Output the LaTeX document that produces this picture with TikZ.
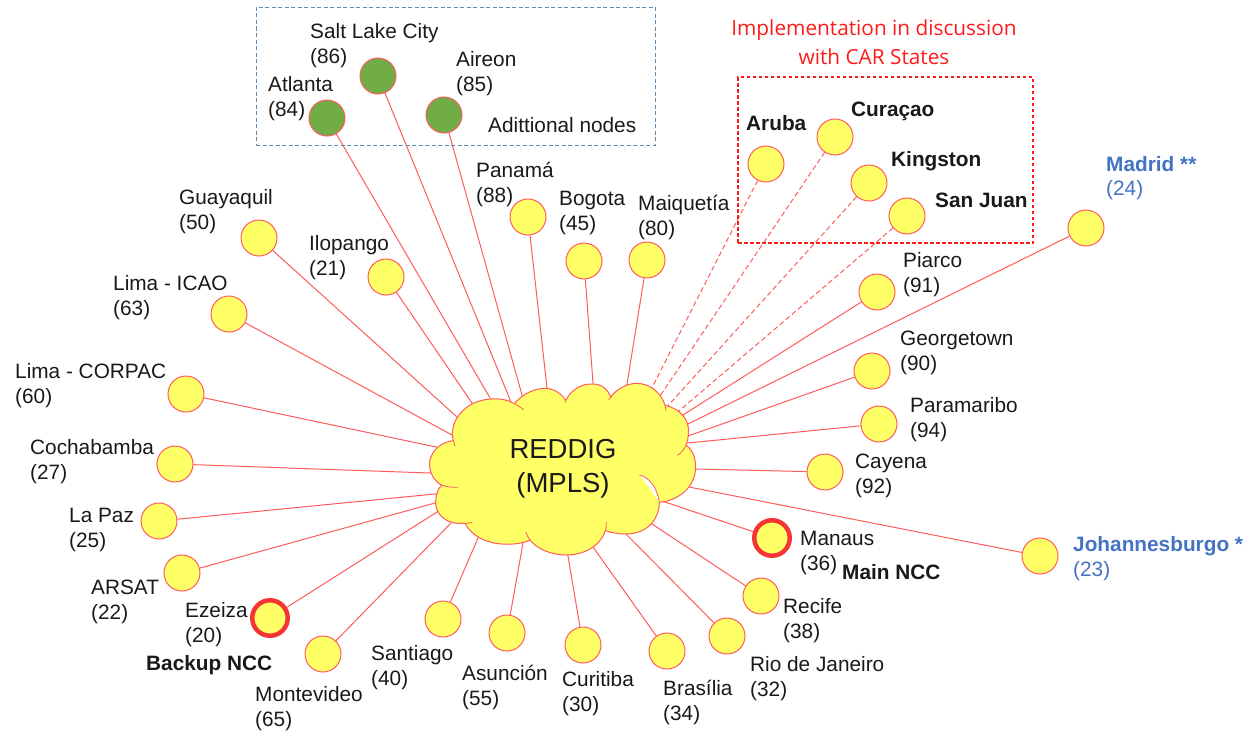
\documentclass[tikz,border=0pt]{standalone}
\usepackage{fontspec}
\setmainfont{Liberation Sans}
\newfontfamily\notefont{Open Sans}
\usetikzlibrary{backgrounds}
\definecolor{linkred}{HTML}{FF5B5B}
\definecolor{carred}{HTML}{FF1A1A}
\definecolor{nccred}{HTML}{F53535}
\definecolor{nodeyellow}{HTML}{FFFF66}
\definecolor{nodegreen}{HTML}{70AD47}
\definecolor{labelblue}{HTML}{4472C4}
\definecolor{boxblue}{HTML}{5B8DB8}
\tikzset{
  site/.style={circle,draw=linkred,line width=1pt,fill=nodeyellow,minimum size=36pt,inner sep=0pt},
  extra/.style={site,fill=nodegreen},
  ncc/.style={site,draw=nccred,line width=4.5pt,minimum size=35.5pt},
  lbl/.style={anchor=west,align=left,inner sep=0pt,font=\fontsize{20.8}{25}\selectfont,text=black!90},
  blbl/.style={lbl,font=\fontsize{20.8}{25}\selectfont\bfseries},
  link/.style={draw=linkred,line width=1pt},
  dlink/.style={link,dash pattern=on 5pt off 3pt},
}
\begin{document}
\begin{tikzpicture}[x=1pt,y=-1pt]
\useasboundingbox (0,0) rectangle (1247,731);
% boxes
\node[draw,color=boxblue,dash pattern=on 4pt off 2.5pt,line width=1pt,minimum width=399pt,minimum height=138pt,inner sep=0pt] (addbox) at (455.5,76) {};
\node[draw,color=carred,dash pattern=on 3.5pt off 2.5pt,line width=1.2pt,minimum width=295pt,minimum height=166pt,inner sep=0pt] (carbox) at (885.5,160) {};
% sites
\node[site] (guay) at (259,238) {};
\node[site] (ilop) at (386,277) {};
\node[site] (licao) at (229,314) {};
\node[site] (lcorp) at (186,394) {};
\node[site] (coch) at (175,464) {};
\node[site] (lapaz) at (159,521) {};
\node[site] (arsat) at (182,573) {};
\node[ncc] (ezei) at (270,618) {};
\node[site] (mont) at (323,654) {};
\node[site] (sant) at (443,619) {};
\node[site] (asun) at (507,633) {};
\node[site] (curi) at (583,645) {};
\node[site] (bras) at (667,651) {};
\node[site] (rio) at (727,636) {};
\node[site] (reci) at (761,596) {};
\node[ncc] (mana) at (772,538) {};
\node[site] (caye) at (825,472) {};
\node[site] (para) at (879,424) {};
\node[site] (geor) at (872,371) {};
\node[site] (piar) at (877,292) {};
\node[site] (joha) at (1040,556) {};
\node[site] (madr) at (1086,228) {};
\node[site] (maiq) at (647,260) {};
\node[site] (bogo) at (584,261) {};
\node[site] (pana) at (528,217) {};
\node[extra] (atla) at (327,118) {};
\node[extra] (salt) at (378,76) {};
\node[extra] (aire) at (444,115) {};
\node[site] (arub) at (766,164) {};
\node[site] (cura) at (835,137) {};
\node[site] (king) at (869,183) {};
\node[site] (sanj) at (907,216) {};
% cloud centre
\node[font=\fontsize{27.5}{34}\selectfont,align=center,inner sep=0pt,text=black!90] (cloud) at (563,468.5) {REDDIG\\(MPLS)};
\coordinate (hub) at (610,470);
\begin{scope}[on background layer]
\foreach \n/\ex/\ey in {guay/457/417,ilop/472/403,licao/452/435,lcorp/436/447,coch/430/473,lapaz/435/494,arsat/435/503,ezei/437/512,mont/450/524,sant/478/538,asun/523/543,curi/568/556,bras/593/547,rio/630/538,reci/652/524,mana/665/502,caye/695/469,para/688/443,geor/688/436,piar/683/415,joha/689/487,madr/688/424,maiq/627/384,bogo/593/383,pana/547/388,atla/490/398,salt/511/402,aire/522/395}{
  \coordinate (end\n) at (\ex,\ey);
  \draw[link,shorten >=-6pt] (\n) -- (end\n);
}
\foreach \n in {arub,cura,king,sanj}
  \draw[dlink] (\n) -- (hub);
\end{scope}
% cloud outline
\begin{scope}[on background layer,shift={(420,370)},x=0.33333pt,y=-0.33333pt]
\fill[white] (650,310) -- (725,310) -- (725,400) -- (700,400) -- cycle;
\fill[nodeyellow,draw=linkred,line width=1pt,line join=round]
 (100,212) .. controls (85,160) and (130,90) .. (215,87)
 .. controls (240,85) and (265,90) .. (283,101)
 .. controls (310,70) and (345,55) .. (375,55)
 .. controls (400,55) and (425,70) .. (437,92)
 .. controls (455,55) and (490,40) .. (520,42)
 .. controls (545,42) and (565,60) .. (572,82)
 .. controls (590,55) and (625,40) .. (650,40)
 .. controls (690,40) and (725,70) .. (735,106)
 .. controls (780,115) and (810,150) .. (805,190)
 .. controls (805,205) and (802,215) .. (798,225)
 .. controls (825,245) and (830,280) .. (825,310)
 .. controls (815,360) and (770,392) .. (718,397)
 .. controls (718,440) and (690,490) .. (620,492)
 .. controls (595,492) and (575,488) .. (556,482)
 .. controls (540,530) and (490,555) .. (440,555)
 .. controls (390,555) and (350,535) .. (330,510)
 .. controls (290,530) and (175,535) .. (135,460)
 .. controls (75,465) and (45,430) .. (47,395)
 .. controls (47,375) and (55,355) .. (65,345)
 .. controls (35,330) and (25,295) .. (30,270)
 .. controls (38,235) and (70,215) .. (100,212) -- cycle;
\draw[linkred,line width=0.8pt]
 (100,212) .. controls (102,218) and (104,224) .. (105,229)
 (283,101) .. controls (293,106) and (303,112) .. (311,119)
 (437,92) .. controls (437,94) and (436,96) .. (435,98)
 (572,82) .. controls (570,84) and (568,86) .. (566,89)
 (735,106) .. controls (737,112) and (738,116) .. (738,122)
 (798,225) .. controls (792,238) and (785,248) .. (772,256)
 (65,345) .. controls (78,350) and (95,353) .. (114,352)
 (135,460) .. controls (142,460) and (150,459) .. (157,457)
 (330,510) .. controls (325,503) and (320,495) .. (318,487)
 (556,482) .. controls (559,474) and (560,465) .. (559,456);
\fill[white] (658,315) .. controls (690,322) and (712,355) .. (718,397) .. controls (700,370) and (680,340) .. (658,315) -- cycle;
\draw[linkred,line width=0.8pt] (658,315) .. controls (690,322) and (712,355) .. (718,397);
\end{scope}
% labels
\node[lbl] (t1) at (310,45.5) {Salt Lake City\\(86)};
\node[lbl] (t2) at (268,98.5) {Atlanta\\(84)};
\node[lbl] (t3) at (456,74) {Aireon\\(85)};
\node[lbl] (t4) at (488,125) {Adittional nodes};
\node[lbl] (t5) at (476,184) {Panamá\\(88)};
\node[lbl] (t6) at (559,213) {Bogota\\(45)};
\node[lbl] (t7) at (638,217) {Maiquetía\\(80)};
\node[lbl] (t8) at (179,212) {Guayaquil\\(50)};
\node[lbl] (t9) at (309,258) {Ilopango\\(21)};
\node[lbl] (t10) at (113,298) {Lima - ICAO\\(63)};
\node[lbl] (t11) at (15,386) {Lima - CORPAC\\(60)};
\node[lbl] (t12) at (30,462) {Cochabamba\\(27)};
\node[lbl] (t13) at (69,530) {La Paz\\(25)};
\node[lbl] (t14) at (91,602) {ARSAT\\(22)};
\node[lbl] (t15) at (185,625) {Ezeiza\\(20)};
\node[blbl] (t16) at (146,665) {Backup NCC};
\node[lbl] (t17) at (255,709) {Montevideo\\(65)};
\node[lbl] (t18) at (371,668) {Santiago\\(40)};
\node[lbl] (t19) at (462,687) {Asunción\\(55)};
\node[lbl] (t20) at (562,694) {Curitiba\\(30)};
\node[lbl] (t21) at (663,702) {Brasília\\(34)};
\node[lbl] (t22) at (750,679) {Rio de Janeiro\\(32)};
\node[lbl] (t23) at (783,621) {Recife\\(38)};
\node[lbl] (t24) at (800,553) {Manaus\\(36)};
\node[blbl] (t25) at (842,572) {Main NCC};
\node[lbl] (t26) at (855,476) {Cayena\\(92)};
\node[lbl] (t27) at (910,420) {Paramaribo\\(94)};
\node[lbl] (t28) at (900,353) {Georgetown\\(90)};
\node[lbl] (t29) at (903,275) {Piarco\\(91)};
\node[blbl,text=labelblue] (t30) at (1073,546) {Johannesburgo *};
\node[lbl,text=labelblue] (t31) at (1073,571) {(23)};
\node[blbl,text=labelblue] (t32) at (1106,164) {Madrid **};
\node[lbl,text=labelblue] (t33) at (1106,190) {(24)};
\node[blbl] (t34) at (746,123) {Aruba};
\node[blbl] (t35) at (851,111) {Curaçao};
\node[blbl] (t36) at (891,161) {Kingston};
\node[blbl] (t37) at (935,200) {San Juan};
\node[align=center,inner sep=0pt,text=carred,font=\notefont\fontsize{20.8}{29}\selectfont] (t38) at (874,42) {Implementation in discussion\\with CAR States};
\end{tikzpicture}
\end{document}
